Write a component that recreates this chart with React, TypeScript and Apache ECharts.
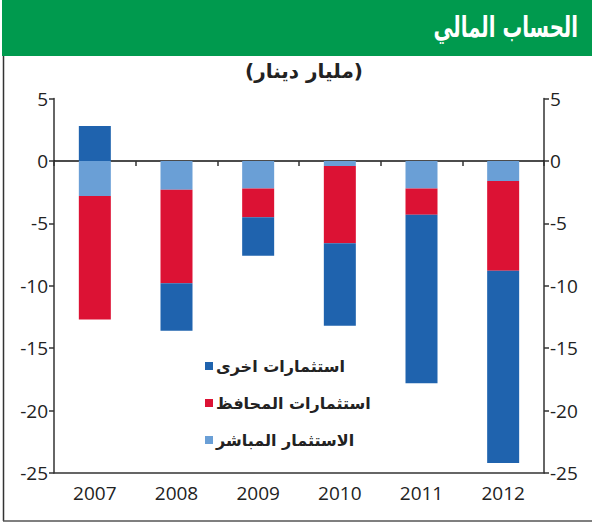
import React, { useEffect, useRef } from "react";
import * as echarts from "echarts";

const years = ["2007", "2008", "2009", "2010", "2011", "2012"];
const directInvestment = [-2.8, -2.3, -2.2, -0.4, -2.2, -1.6];
const portfolioInvestment = [-9.9, -7.5, -2.3, -6.2, -2.1, -7.2];
const otherInvestment = [2.8, -3.8, -3.1, -6.6, -13.5, -15.4];
const seriesNames = ["استثمارات اخرى", "استثمارات المحافظ", "الاستثمار المباشر"];
const headerTitle = "الحساب المالي";
const unitTitle = "(مليار دينار)";

const AR = "DejaVu Sans";
const NUM = "Open Sans";

export default function App() {
  const ref = useRef<HTMLDivElement>(null);
  useEffect(() => {
    if (!ref.current) return;
    const chart = echarts.init(ref.current, null, { renderer: "svg" });
    const yAxisCommon = {
      type: "value",
      min: -25,
      max: 5,
      interval: 5,
      axisLine: { show: true, lineStyle: { color: "#333", width: 1.5 } },
      axisTick: { show: true, length: 5, lineStyle: { color: "#333", width: 1.5 } },
      splitLine: { show: false },
      axisLabel: { color: "#222", fontSize: 19, fontFamily: NUM, margin: 6 },
    };
    chart.setOption({
      animation: false,
      backgroundColor: "#fff",
      graphic: [
        { type: "rect", shape: { x: 2, y: 0, width: 590, height: 56 }, style: { fill: "#009a4e" }, silent: true },
        {
          type: "text",
          x: 578,
          y: 27,
          scaleX: 0.68,
          style: {
            text: headerTitle,
            fill: "#fff",
            fontSize: 29,
            fontWeight: "bold",
            fontFamily: AR,
            align: "right",
            verticalAlign: "middle",
          },
        },
        {
          type: "text",
          x: 304,
          y: 71,
          style: {
            text: unitTitle,
            fill: "#222",
            fontSize: 20,
            fontWeight: "bold",
            fontFamily: AR,
            align: "center",
            verticalAlign: "middle",
          },
        },
        { type: "line", shape: { x1: 3.5, y1: 56, x2: 3.5, y2: 521 }, style: { stroke: "#333", lineWidth: 1.5 } },
        { type: "line", shape: { x1: 3, y1: 521, x2: 592, y2: 521 }, style: { stroke: "#555", lineWidth: 1.5 } },
      ],
      grid: { left: 54, right: 48, top: 98.6, bottom: 53 },
      legend: {
        data: [seriesNames[0], seriesNames[1], seriesNames[2]],
        orient: "vertical",
        left: 200,
        top: 353,
        itemWidth: 8,
        itemHeight: 8,
        itemGap: 21,
        icon: "rect",
        textStyle: { fontSize: 16, fontWeight: "bold", fontFamily: AR, color: "#222", padding: [0, 0, 0, -2] },
      },
      xAxis: [
        {
          type: "category",
          data: years,
          position: "bottom",
          axisLine: { show: true, onZero: false, lineStyle: { color: "#333", width: 1.5 } },
          axisTick: { show: false },
          axisLabel: { color: "#222", fontSize: 19, fontFamily: NUM, margin: 10 },
        },
        {
          type: "category",
          data: years,
          position: "bottom",
          axisLine: { show: true, onZero: true, lineStyle: { color: "#111", width: 1.5 } },
          axisTick: { show: true, length: 5, inside: false, lineStyle: { color: "#333", width: 1.5 } },
          axisLabel: { show: false },
        },
      ],
      yAxis: [
        { ...yAxisCommon, position: "left" },
        { ...yAxisCommon, position: "right" },
      ],
      series: [
        {
          name: seriesNames[2],
          type: "bar",
          stack: "total",
          barWidth: 32,
          data: directInvestment,
          itemStyle: { color: "#6a9fd6" },
        },
        {
          name: seriesNames[1],
          type: "bar",
          stack: "total",
          barWidth: 32,
          data: portfolioInvestment,
          itemStyle: { color: "#dc1234" },
        },
        {
          name: seriesNames[0],
          type: "bar",
          stack: "total",
          barWidth: 32,
          data: otherInvestment,
          itemStyle: { color: "#1f63ae" },
        },
      ],
    });
    return () => chart.dispose();
  }, []);
  return <div ref={ref} style={{ position: "fixed", left: 0, top: 0, width: 592, height: 526 }} />;
}
